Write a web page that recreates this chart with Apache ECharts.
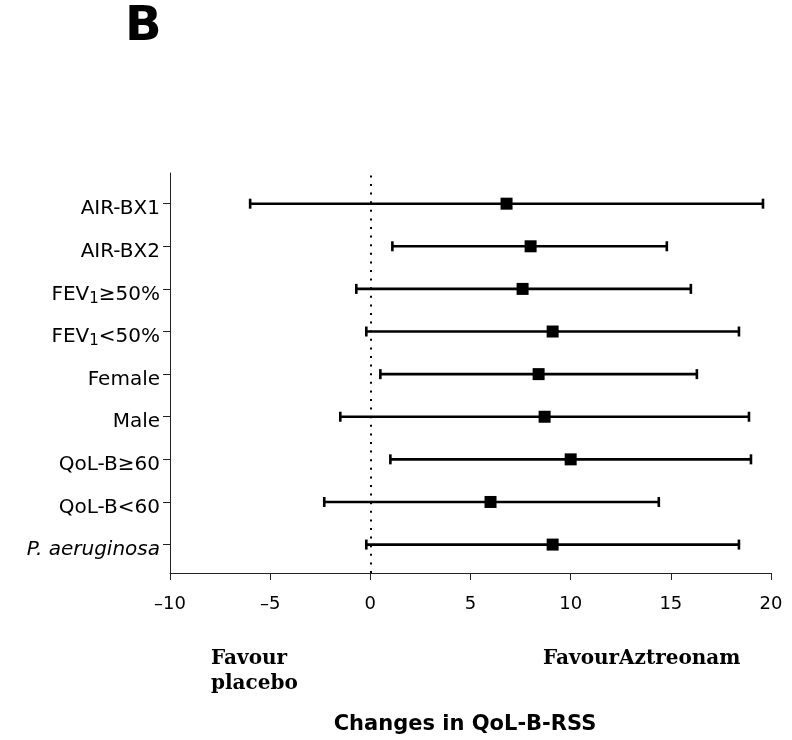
<!DOCTYPE html>
<html>
<head>
<meta charset="utf-8">
<script src="https://cdn.jsdelivr.net/npm/echarts@6/dist/echarts.min.js"></script>
<style>html,body{margin:0;padding:0;background:#fff}#c{width:792px;height:740px}</style>
</head>
<body>
<div id="c"></div>
<script>
// Rows, top to bottom
var categories = ['AIR-BX1', 'AIR-BX2', 'FEV1≥50%', 'FEV1<50%', 'Female', 'Male', 'QoL-B≥60', 'QoL-B<60', 'P. aeruginosa'];
var estimates = [6.8, 8.0, 7.6, 9.1, 8.4, 8.7, 10.0, 6.0, 9.1];
var lowerCI   = [-6.0, 1.1, -0.7, -0.2, 0.5, -1.5, 1.0, -2.3, -0.2];
var upperCI   = [19.6, 14.8, 16.0, 18.4, 16.3, 18.9, 19.0, 14.4, 18.4];
var xTicks = [-10, -5, 0, 5, 10, 15, 20];

var n = categories.length;
var rowPos = categories.map(function (c, i) { return n - i; });

var labelRich = {
  t: { fontFamily: 'DejaVu Sans', fontSize: 20, color: '#000', lineHeight: 24 },
  s: { fontFamily: 'DejaVu Sans', fontSize: 15, color: '#000', lineHeight: 14, verticalAlign: 'bottom' },
  i: { fontFamily: 'DejaVu Sans', fontSize: 20, fontStyle: 'italic', color: '#000', lineHeight: 24 }
};
function fmtLabel(v) {
  var idx = n - Math.round(v);
  var c = categories[idx];
  if (c === undefined) return '';
  if (c.indexOf('FEV1') === 0) return '{t|FEV}{s|1}{t|' + c.slice(4) + '}';
  if (c.indexOf('P. ') === 0) return '{i|' + c + '}';
  return '{t|' + c + '}';
}

var ciData = categories.map(function (c, i) { return [lowerCI[i], upperCI[i], rowPos[i]]; });
var ptData = categories.map(function (c, i) { return [estimates[i], rowPos[i]]; });

var chart = echarts.init(document.getElementById('c'));
chart.setOption({
  animation: false,
  backgroundColor: '#fff',
  grid: { left: 170, right: 21, top: 173, bottom: 167, containLabel: false },
  xAxis: {
    type: 'value', min: -10, max: 20, interval: 5,
    axisLine: { show: true, onZero: false, lineStyle: { color: '#222', width: 1 } },
    axisTick: { show: true, length: 7, lineStyle: { color: '#222' }, customValues: xTicks },
    splitLine: { show: false },
    axisLabel: {
      margin: 22, color: '#000', fontFamily: 'DejaVu Sans', fontSize: 18, customValues: xTicks,
      formatter: function (v) { return v < 0 ? '\u2013' + Math.abs(v) : String(v); }
    }
  },
  yAxis: {
    type: 'value', min: 0.333, max: 9.72,
    axisLine: { show: true, onZero: false, lineStyle: { color: '#222', width: 1 } },
    axisTick: { show: true, length: 7, lineStyle: { color: '#222' }, customValues: rowPos },
    splitLine: { show: false },
    axisLabel: { margin: 10, padding: [11, 0, 0, 0], customValues: rowPos, formatter: fmtLabel, rich: labelRich }
  },
  series: [
    {
      type: 'custom',
      data: ciData,
      encode: { x: [0, 1], y: 2 },
      renderItem: function (params, api) {
        var lo = api.coord([api.value(0), api.value(2)]);
        var hi = api.coord([api.value(1), api.value(2)]);
        var h = 5;
        var st = { stroke: '#000', lineWidth: 2.6 };
        return {
          type: 'group',
          children: [
            { type: 'line', shape: { x1: lo[0], y1: lo[1], x2: hi[0], y2: hi[1] }, style: st },
            { type: 'line', shape: { x1: lo[0], y1: lo[1] - h, x2: lo[0], y2: lo[1] + h }, style: st },
            { type: 'line', shape: { x1: hi[0], y1: hi[1] - h, x2: hi[0], y2: hi[1] + h }, style: st }
          ]
        };
      },
      z: 2
    },
    {
      type: 'scatter',
      data: ptData,
      symbol: 'rect',
      symbolSize: 12,
      itemStyle: { color: '#000', opacity: 1 },
      z: 3,
      markLine: {
        silent: true,
        symbol: 'none',
        label: { show: false },
        lineStyle: { color: '#000', type: [2, 6.6], width: 2, opacity: 1 },
        data: [{ xAxis: 0 }]
      }
    }
  ],
  graphic: [
    { type: 'text', left: 125, top: 4, style: { text: 'B', font: 'bold 48px "DejaVu Sans"', fill: '#000' } },
    { type: 'text', x: 211, y: 659, style: { text: 'Favour', font: 'bold 20px "DejaVu Serif"', fill: '#000', verticalAlign: 'middle' } },
    { type: 'text', x: 211, y: 684, style: { text: 'placebo', font: 'bold 20px "DejaVu Serif"', fill: '#000', verticalAlign: 'middle' } },
    { type: 'text', x: 543, y: 659, style: { text: 'FavourAztreonam', font: 'bold 20px "DejaVu Serif"', fill: '#000', verticalAlign: 'middle' } },
    { type: 'text', x: 465, y: 725, style: { text: 'Changes in QoL-B-RSS', font: 'bold 21px "DejaVu Sans"', fill: '#000', align: 'center', verticalAlign: 'middle' } }
  ]
});
</script>
</body>
</html>
